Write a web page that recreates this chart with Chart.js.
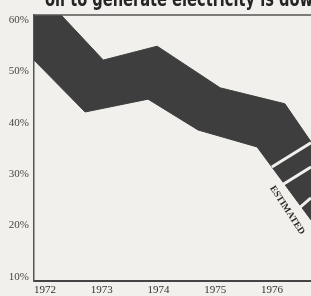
<!DOCTYPE html>
<html>
<head>
<meta charset="utf-8">
<script src="https://cdn.jsdelivr.net/npm/chart.js@4.4.1/dist/chart.umd.min.js"></script>
<style>
  html, body { margin: 0; padding: 0; background: #f1f0ec; }
  #wrap { width: 311px; height: 296px; position: relative; }
</style>
</head>
<body>
<div id="wrap"><canvas id="oilShare"></canvas></div>
<script>
// values (share of electricity generated from oil, %)
const yearTicks = [1972, 1973, 1974, 1975, 1976];
const shareTicks = [10, 20, 30, 40, 50, 60];

const upperYears = [1972, 1973.22, 1974.17, 1975.28, 1976.42, 1976.88];
const upperShare = [66.6, 52.2, 54.9, 46.8, 43.7, 36.3];
const lowerYears = [1972, 1972.90, 1974.01, 1974.89, 1975.93, 1976.88];
const lowerShare = [52.2, 42.1, 44.6, 38.6, 35.3, 21.1];

// white bars across the estimated part of the band
const stripeFromYears = [1976.19, 1976.37, 1976.67];
const stripeFromShare = [31.4, 27.9, 23.4];
const stripeToYears = [1976.88, 1976.88, 1976.88];
const stripeToShare = [36.1, 31.4, 25.4];

const titleText = "oil to generate electricity is down";
const estimateLabel = "ESTIMATED";
const estimateAt = { x: 1976.46, y: 23.0 };

const paper = "#f1f0ec";
const ink = "#3e3e3e";

function pts(xs, ys) {
  return xs.map(function (x, i) { return { x: x, y: ys[i] }; });
}

let datasets = [
  {
    label: "upper",
    data: pts(upperYears, upperShare),
    borderColor: ink,
    backgroundColor: ink,
    borderWidth: 1,
    pointRadius: 0,
    tension: 0,
    fill: "+1",
    order: 2
  },
  {
    label: "lower",
    data: pts(lowerYears, lowerShare),
    borderColor: ink,
    borderWidth: 1,
    pointRadius: 0,
    tension: 0,
    fill: false,
    order: 2
  }
];

for (let i = 0; i < stripeFromYears.length; i++) {
  datasets.push({
    label: "stripe" + i,
    data: [
      { x: stripeFromYears[i], y: stripeFromShare[i] },
      { x: stripeToYears[i], y: stripeToShare[i] }
    ],
    borderColor: paper,
    borderWidth: 3,
    pointRadius: 0,
    fill: false,
    order: 1
  });
}

let frameAndText = {
  id: "frameAndText",
  afterDraw: function (chart) {
    let ctx = chart.ctx;
    let area = chart.chartArea;
    let xs = chart.scales.x, ys = chart.scales.y;
    ctx.save();
    // top rule of the frame
    ctx.strokeStyle = "#555";
    ctx.lineWidth = 1.5;
    ctx.beginPath();
    ctx.moveTo(area.left, area.top);
    ctx.lineTo(area.right, area.top);
    ctx.stroke();

    // headline, cut off at the top edge as in the clipping (heavy, condensed)
    ctx.save();
    ctx.fillStyle = "#252525";
    ctx.font = "bold 21px 'DejaVu Sans Condensed', 'DejaVu Sans', sans-serif";
    ctx.textBaseline = "alphabetic";
    ctx.textAlign = "left";
    let squeeze = 268 / ctx.measureText("oil to generate electricity is dow").width;
    ctx.translate(45, 6);
    ctx.scale(squeeze, 1);
    ctx.fillText(titleText, 0, 0);
    ctx.restore();

    // "ESTIMATED" running along the lower edge
    ctx.translate(xs.getPixelForValue(estimateAt.x), ys.getPixelForValue(estimateAt.y));
    ctx.rotate(57 * Math.PI / 180);
    ctx.font = "bold 9.5px 'Liberation Serif', serif";
    ctx.fillStyle = "#2a2a2a";
    ctx.textAlign = "center";
    ctx.textBaseline = "middle";
    ctx.fillText(estimateLabel, 0, 0);
    ctx.restore();
  }
};

let tickFont = { family: "'Liberation Serif', serif", size: 11 };

new Chart(document.getElementById("oilShare").getContext("2d"), {
  type: "line",
  data: { datasets: datasets },
  options: {
    responsive: true,
    maintainAspectRatio: false,
    animation: false,
    layout: { padding: { top: 15, right: 0, left: 0, bottom: 0 } },
    plugins: { legend: { display: false }, tooltip: { enabled: false } },
    scales: {
      x: {
        type: "linear",
        min: 1972,
        max: 1976.88,
        grid: { display: false, drawTicks: false },
        border: { display: true, color: "#444", width: 2 },
        afterBuildTicks: function (scale) {
          scale.ticks = yearTicks.map(function (v) { return { value: v }; });
        },
        afterFit: function (scale) { scale.height = 15; },
        ticks: {
          align: "start",
          color: "#333",
          font: tickFont,
          padding: 3,
          maxRotation: 0,
          callback: function (v) { return String(v); }
        }
      },
      y: {
        min: 9.22,
        max: 60.97,
        grid: { display: false, drawTicks: false },
        border: { display: true, color: "#555", width: 1.5 },
        afterBuildTicks: function (scale) {
          scale.ticks = shareTicks.map(function (v) { return { value: v }; });
        },
        afterFit: function (scale) { scale.width = 34; },
        ticks: {
          color: "#444",
          font: tickFont,
          padding: 5,
          callback: function (v) { return v + "%"; }
        }
      }
    }
  },
  plugins: [frameAndText]
});
</script>
</body>
</html>
